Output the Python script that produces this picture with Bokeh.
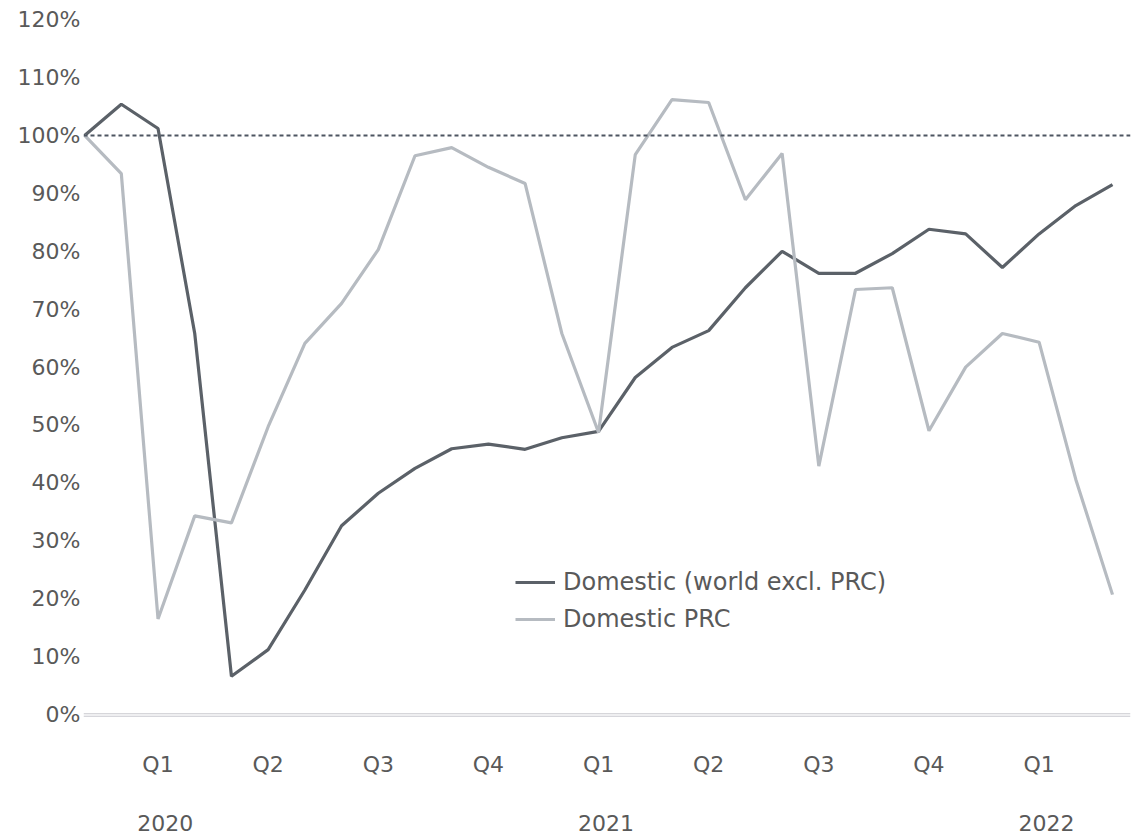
from bokeh.plotting import figure
from bokeh.models import (ColumnDataSource, Range1d, LinearAxis, FixedTicker, Span,
                          Legend, LegendItem)
from bokeh.embed import file_html
from bokeh.resources import INLINE

# ---- data (monthly, Dec 2019 = 100%) ----
months = ["Dec 2019", "Jan 2020", "Feb 2020", "Mar 2020", "Apr 2020", "May 2020", "Jun 2020",
          "Jul 2020", "Aug 2020", "Sep 2020", "Oct 2020", "Nov 2020", "Dec 2020",
          "Jan 2021", "Feb 2021", "Mar 2021", "Apr 2021", "May 2021", "Jun 2021",
          "Jul 2021", "Aug 2021", "Sep 2021", "Oct 2021", "Nov 2021", "Dec 2021",
          "Jan 2022", "Feb 2022", "Mar 2022", "Apr 2022"]
world_excl_prc = [100, 105.4, 101.2, 65.8, 6.6, 11.2, 21.5, 32.6, 38.2, 42.5, 45.9, 46.7, 45.8,
                  47.8, 48.9, 58.2, 63.4, 66.3, 73.7, 80.0, 76.2, 76.2, 79.6, 83.8, 83.0,
                  77.2, 83.0, 87.9, 91.5]
prc = [100, 93.4, 16.5, 34.3, 33.1, 49.7, 64.1, 71.0, 80.3, 96.5, 97.9, 94.5, 91.7,
       65.8, 48.7, 96.7, 106.2, 105.7, 88.9, 96.9, 42.9, 73.4, 73.7, 49.0, 60.0,
       65.8, 64.3, 40.6, 20.7]
quarter_labels = ["Q1", "Q2", "Q3", "Q4", "Q1", "Q2", "Q3", "Q4", "Q1"]
quarter_months = ["Feb 2020", "May 2020", "Aug 2020", "Nov 2020", "Feb 2021", "May 2021",
                  "Aug 2021", "Nov 2021", "Feb 2022"]
year_labels = ["2020", "2021", "2022"]
year_months = ["Feb 2020", "Feb 2021", "Feb 2022"]
y_ticks = [0, 10, 20, 30, 40, 50, 60, 70, 80, 90, 100, 110, 120]
baseline = 100

FONT = "DejaVu Sans"
TXT = "#595959"
DARK = "#5b6168"
LIGHT = "#b6bbc1"

x = list(range(len(months)))
src = ColumnDataSource(dict(x=x, world=world_excl_prc, prc=prc))

p = figure(width=1133, height=838, output_backend="svg", toolbar_location=None,
           x_range=Range1d(-0.03, 28.49), y_range=Range1d(-1.04, 121.24),
           min_border_left=83, min_border_right=3, min_border_top=12, min_border_bottom=118,
           x_axis_location=None, y_axis_location=None)
p.outline_line_color = None
p.xgrid.visible = False
p.ygrid.visible = False
p.background_fill_color = "white"
p.border_fill_color = "white"


def style_axis(ax, standoff):
    ax.axis_line_color = None
    ax.major_tick_line_color = None
    ax.minor_tick_line_color = None
    ax.major_tick_out = 0
    ax.major_tick_in = 0
    ax.minor_tick_out = 0
    ax.minor_tick_in = 0
    ax.major_label_text_font = FONT
    ax.major_label_text_font_size = "22px"
    ax.major_label_text_color = TXT
    ax.major_label_standoff = standoff


# y axis
ya = LinearAxis(ticker=FixedTicker(ticks=y_ticks))
ya.major_label_overrides = {t: f"{t}%" for t in y_ticks}
style_axis(ya, 3)
p.add_layout(ya, "left")

# quarter axis
qpos = [months.index(m) for m in quarter_months]
qa = LinearAxis(ticker=FixedTicker(ticks=qpos))
qa.major_label_overrides = {pos: lab for pos, lab in zip(qpos, quarter_labels)}
style_axis(qa, 31)
p.add_layout(qa, "below")

# year axis
ypos = [months.index(m) + 0.2 for m in year_months]
yr = LinearAxis(ticker=FixedTicker(ticks=ypos))
yr.major_label_overrides = {pos: lab for pos, lab in zip(ypos, year_labels)}
style_axis(yr, 35)
p.add_layout(yr, "below")

# zero axis (double line) and 100% dotted reference
p.add_layout(Span(location=0.12, dimension="width", line_color="#c6c6cc", line_width=1))
p.add_layout(Span(location=-0.3, dimension="width", line_color="#c6c6cc", line_width=1))
p.add_layout(Span(location=baseline, dimension="width", line_color="#4d5561",
                  line_width=2, line_dash="4 3"))

r1 = p.line("x", "world", source=src, line_color=DARK, line_width=3.2)
r2 = p.line("x", "prc", source=src, line_color=LIGHT, line_width=3.2)

legend = Legend(items=[LegendItem(label="Domestic (world excl. PRC)", renderers=[r1]),
                       LegendItem(label="Domestic PRC", renderers=[r2])],
                location=(432, 87), orientation="vertical")
legend.background_fill_alpha = 0
legend.border_line_color = None
legend.label_text_font = FONT
legend.label_text_font_size = "24px"
legend.label_text_color = TXT
legend.glyph_width = 40
legend.label_standoff = 8
legend.spacing = 9
legend.padding = 0
legend.margin = 0
p.add_layout(legend, "center")

open("out.html", "w").write(file_html(p, INLINE))
